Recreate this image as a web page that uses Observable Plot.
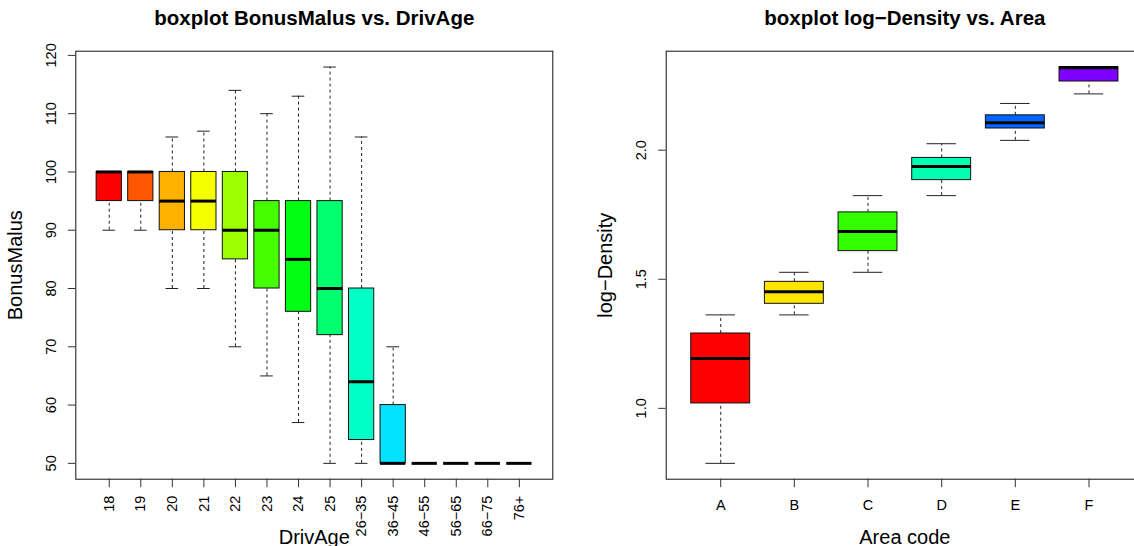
<!DOCTYPE html>
<html><head><meta charset="utf-8">
<script src="https://cdn.jsdelivr.net/npm/d3@7"></script>
<script src="https://cdn.jsdelivr.net/npm/@observablehq/plot@0.6"></script>
<style>
html,body{margin:0;padding:0;background:#fff;overflow:hidden;width:1134px;height:546px}
#wrap{position:relative;width:1134px;height:546px;overflow:hidden;background:#fff}
#left{position:absolute;left:0;top:0;width:567px;height:546px}
#right{position:absolute;left:567px;top:0;width:586px;height:546px}
</style></head><body><div id="wrap"><div id="left"></div><div id="right"></div></div>
<script>
// ---- Left panel data: BonusMalus by DrivAge ----
const drivAge = ["18","19","20","21","22","23","24","25","26\u221235","36\u221245","46\u221255","56\u221265","66\u221275","76+"];
const bmLow  = [90, 90, 80, 80, 70, 65, 57, 50, 50, 50, 50, 50, 50, 50];
const bmQ1   = [95, 95, 90, 90, 85, 80, 76, 72, 54, 50, 50, 50, 50, 50];
const bmMed  = [100,100, 95, 95, 90, 90, 85, 80, 64, 50, 50, 50, 50, 50];
const bmQ3   = [100,100,100,100,100, 95, 95, 95, 80, 60, 50, 50, 50, 50];
const bmHigh = [100,100,106,107,114,110,113,118,106, 70, 50, 50, 50, 50];
const bmColors = ["#FF0000","#FF5800","#FFB100","#F5FF00","#9DFF00","#45FF00","#00FF14","#00FF6C","#00FFC4","#00E2FF","#0089FF","#0031FF","#2700FF","#8000FF"];
const bmTicks = [50, 60, 70, 80, 90, 100, 110, 120];

// ---- Right panel data: log-Density by Area ----
const areas = ["A","B","C","D","E","F"];
const ldLow  = [0.787, 1.362, 1.527, 1.824, 2.038, 2.218];
const ldQ1   = [1.019, 1.405, 1.609, 1.884, 2.084, 2.266];
const ldMed  = [1.193, 1.452, 1.685, 1.937, 2.106, 2.319];
const ldQ3   = [1.290, 1.490, 1.759, 1.970, 2.135, 2.322];
const ldHigh = [1.362, 1.527, 1.824, 2.025, 2.181, 2.322];
const ldColors = ["#FF0000","#FFE600","#33FF00","#00FFB3","#0066FF","#8000FF"];
const ldTicks = [1.0, 1.5, 2.0];

const FONT = "'Liberation Sans', Arial, Helvetica, sans-serif";

function boxPanel(o) {
  const rows = o.cats.map((c, i) => ({cat: c, low: o.low[i], q1: o.q1[i], med: o.med[i], q3: o.q3[i], high: o.high[i], color: o.colors[i]}));
  const lo = d3.min(o.low), hi = d3.max(o.high), pad = 0.04 * (hi - lo);
  const marginTop = 50.7, marginBottom = 67.3, height = 546;
  const innerW = o.width - o.marginLeft - o.marginRight;
  const step = innerW / (o.cats.length - 0.2 + 2 * o.paddingOuter);
  const staple = 0.8 * step / 4;
  const dash = {stroke: "#222", strokeWidth: 1, strokeDasharray: "3,3"};
  return Plot.plot({
    width: o.width, height, marginLeft: o.marginLeft, marginRight: o.marginRight, marginTop, marginBottom,
    style: {fontFamily: FONT, background: "white", color: "black", maxWidth: "none", overflow: "visible"},
    x: {type: "band", domain: o.cats, paddingInner: 0.2, paddingOuter: o.paddingOuter, round: false, axis: null},
    y: {domain: [lo - pad, hi + pad], axis: null},
    color: {type: "identity"},
    marks: [
      Plot.ruleX(rows, {x: "cat", y1: "q3", y2: "high", ...dash}),
      Plot.ruleX(rows, {x: "cat", y1: "low", y2: "q1", ...dash}),
      Plot.tickY(rows, {x: "cat", y: "high", stroke: "#222", insetLeft: staple, insetRight: staple}),
      Plot.tickY(rows, {x: "cat", y: "low", stroke: "#222", insetLeft: staple, insetRight: staple}),
      Plot.barY(rows, {x: "cat", y1: "q1", y2: "q3", fill: "color", stroke: "#111", strokeWidth: 1}),
      Plot.tickY(rows, {x: "cat", y: "med", stroke: "#000", strokeWidth: 3}),
      Plot.frame({stroke: "#111"}),
      Plot.axisY({ticks: o.yTicks, tickSize: 7.5, tickFormat: () => "", stroke: "#333", label: null}),
      Plot.axisX({tickSize: 8.5, tickFormat: () => "", stroke: "#333", label: null}),
      Plot.text(o.yTicks, {y: d => d, text: o.tickFmt, frameAnchor: "left", dx: -24.6, rotate: -90,
        textAnchor: "middle", lineAnchor: "middle", fontSize: 14.5, fill: "#000"}),
      o.rotateX
        ? Plot.text(o.cats, {x: d => d, text: d => d, frameAnchor: "bottom", dy: 16.5, rotate: -90,
            textAnchor: "end", lineAnchor: "middle", fontSize: 14.5, fill: "#000"})
        : Plot.text(o.cats, {x: d => d, text: d => d, frameAnchor: "bottom", dy: 30.5,
            textAnchor: "middle", lineAnchor: "bottom", fontSize: 14.5, fill: "#000"}),
      Plot.text([o.xLabel], {text: d => d, frameAnchor: "bottom", dy: 64.3, textAnchor: "middle", lineAnchor: "bottom", fontSize: 20, fill: "#000"}),
      Plot.text([o.yLabel], {text: d => d, frameAnchor: "left", dx: -54, rotate: -90, textAnchor: "middle", lineAnchor: "bottom", fontSize: 20, fill: "#000"}),
      Plot.text([o.title], {text: d => d, frameAnchor: "top", dy: -26.7, textAnchor: "middle", lineAnchor: "bottom", fontSize: 20.5, fontWeight: "bold", fill: "#000"})
    ]
  });
}

document.getElementById("left").append(boxPanel({
  cats: drivAge, low: bmLow, q1: bmQ1, med: bmMed, q3: bmQ3, high: bmHigh, colors: bmColors,
  yTicks: bmTicks, tickFmt: d => String(d),
  title: "boxplot BonusMalus vs. DrivAge", xLabel: "DrivAge", yLabel: "BonusMalus",
  width: 567, marginLeft: 75.3, marginRight: 14.7, paddingOuter: 0.66, rotateX: true
}));

document.getElementById("right").append(boxPanel({
  cats: areas, low: ldLow, q1: ldQ1, med: ldMed, q3: ldQ3, high: ldHigh, colors: ldColors,
  yTicks: ldTicks, tickFmt: d3.format(".1f"),
  title: "boxplot log\u2212Density vs. Area", xLabel: "Area code", yLabel: "log\u2212Density",
  width: 586, marginLeft: 98.7, marginRight: 10, paddingOuter: 0.34, rotateX: false
}));
</script></body></html>
